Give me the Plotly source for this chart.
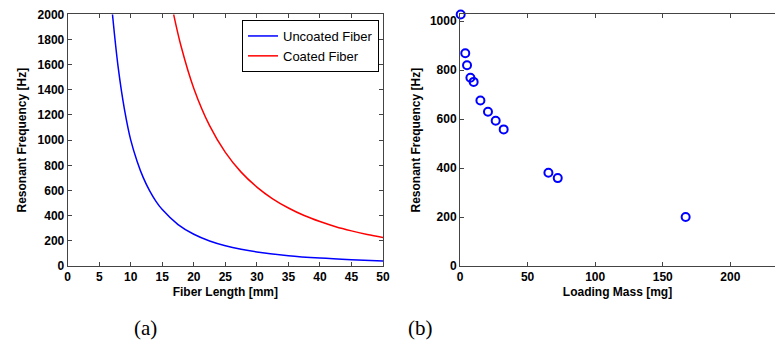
import plotly.graph_objects as go

# (a) Resonant frequency vs fiber length
uncoated_len = [7.1, 8, 9, 10, 11, 12, 13, 14, 15, 17.5, 20, 22.5, 25, 27.5, 30, 35, 40, 45, 50]
uncoated_freq = [2000, 1580, 1245, 1000, 833, 700, 597, 514, 448, 329, 252, 199, 161, 133, 112, 82, 63, 50, 40]
coated_len = [16.8, 18, 20, 22.5, 25, 27.5, 30, 32.5, 35, 37.5, 40, 42.5, 45, 47.5, 50]
coated_freq = [2000, 1742, 1411, 1115, 903, 746, 627, 534, 461, 401, 353, 312, 279, 250, 226]

# (b) Resonant frequency vs loading mass
mass = [0.5, 3.9, 5.2, 7.7, 10.1, 15.1, 20.7, 26.4, 32.3, 65.4, 72.3, 166.9]
mass_freq = [1027, 869, 820, 769, 752, 676, 630, 593, 558, 381, 359, 200]

x_ticks_a = [0, 5, 10, 15, 20, 25, 30, 35, 40, 45, 50]
y_ticks_a = [0, 200, 400, 600, 800, 1000, 1200, 1400, 1600, 1800, 2000]
x_ticks_b = [0, 50, 100, 150, 200]
y_ticks_b = [0, 200, 400, 600, 800, 1000]

W, H = 775, 343
ydom = [1 - 266 / H, 1 - 14.3 / H]

fig = go.Figure()
fig.add_trace(go.Scatter(x=uncoated_len, y=uncoated_freq, mode="lines", name="Uncoated Fiber",
                         line=dict(color="#0000FF", width=1.5, shape="spline"), xaxis="x", yaxis="y"))
fig.add_trace(go.Scatter(x=coated_len, y=coated_freq, mode="lines", name="Coated Fiber",
                         line=dict(color="#FF0000", width=1.5, shape="spline"), xaxis="x", yaxis="y"))
fig.add_trace(go.Scatter(x=mass, y=mass_freq, mode="markers", showlegend=False,
                         marker=dict(symbol="circle-open", size=8, color="#0000FF", line=dict(width=2, color="#0000FF")),
                         xaxis="x2", yaxis="y2", cliponaxis=False))

tickfont = dict(family="Liberation Sans, Arial, sans-serif", size=12, color="black", weight="bold")
titlefont = dict(family="Liberation Sans, Arial, sans-serif", size=12, color="black", weight="bold")
axcommon = dict(showgrid=False, zeroline=False, showline=True, linecolor="#444", linewidth=1,
                ticks="inside", ticklen=4, tickcolor="#444", tickfont=tickfont, automargin=False)

fig.update_layout(
    width=W, height=H,
    margin=dict(l=0, r=0, t=0, b=0),
    paper_bgcolor="white", plot_bgcolor="white",
    xaxis=dict(domain=[67.7 / W, 383 / W], range=[0, 50], tickvals=x_ticks_a, mirror="ticks",
               title=dict(text="Fiber Length [mm]", font=titlefont, standoff=4), anchor="y", **axcommon),
    yaxis=dict(domain=ydom, range=[0, 2000], tickvals=y_ticks_a, mirror="ticks",
               title=dict(text="Resonant Frequency [Hz]", font=titlefont, standoff=8), anchor="x", **axcommon),
    xaxis2=dict(domain=[460 / W, 1.0], range=[0, 233], tickvals=x_ticks_b, mirror="ticks",
                title=dict(text="Loading Mass [mg]", font=titlefont, standoff=4), anchor="y2", **axcommon),
    yaxis2=dict(domain=ydom, range=[0, 1028], tickvals=y_ticks_b, mirror=False,
                title=dict(text="Resonant Frequency [Hz]", font=titlefont, standoff=6), anchor="x2", **axcommon),
    legend=dict(x=379 / W, xanchor="right", y=1 - 20 / H, yanchor="top",
                bordercolor="black", borderwidth=1, bgcolor="white",
                font=dict(family="Liberation Sans, Arial, sans-serif", size=13, color="black"),
                tracegroupgap=0, itemwidth=30),
    annotations=[
        dict(text="(a)", x=145 / W, y=1 - 328 / H, xref="paper", yref="paper", showarrow=False,
             xanchor="center", yanchor="middle",
             font=dict(family="Liberation Serif, Times New Roman, serif", size=21, color="black")),
        dict(text="(b)", x=420 / W, y=1 - 328 / H, xref="paper", yref="paper", showarrow=False,
             xanchor="center", yanchor="middle",
             font=dict(family="Liberation Serif, Times New Roman, serif", size=21, color="black")),
    ],
)

fig.write_html("out.html", config={"displayModeBar": False},
               post_script="document.body.style.margin='0px';document.body.style.overflow='hidden';")
